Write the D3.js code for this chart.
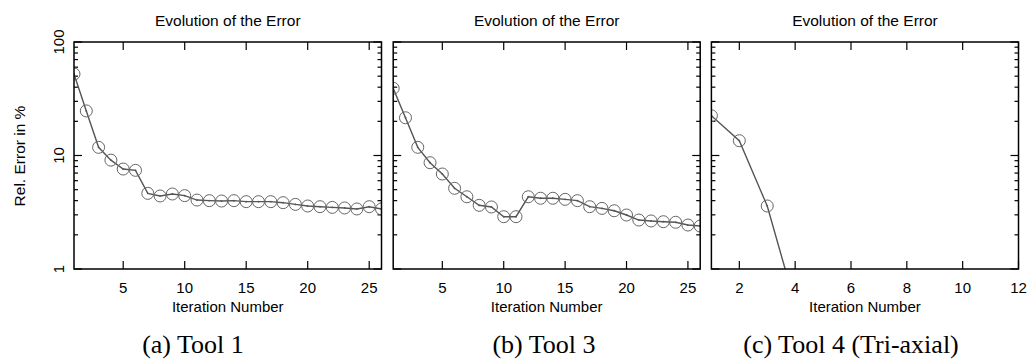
<!DOCTYPE html>
<html>
<head>
<meta charset="utf-8">
<script src="https://cdn.jsdelivr.net/npm/d3@7"></script>
<style>
  body { margin: 0; background: #fff; }
  text { font-family: "Liberation Sans", Arial, sans-serif; fill: #000; }
  .cap { font-family: "Liberation Serif", "DejaVu Serif", serif; }
</style>
</head>
<body>
<svg id="chart" width="1031" height="364"></svg>
<script>
// relative error (%) per iteration
const tool1 = [52.2, 24.7, 11.8, 9.1, 7.6, 7.4, 4.64, 4.40, 4.58, 4.43, 4.05, 4.0, 3.97, 4.0, 3.92, 3.92, 3.92, 3.84, 3.71, 3.59, 3.54, 3.49, 3.45, 3.38, 3.54, 3.38];
const tool3 = [39.1, 21.5, 11.8, 8.64, 6.87, 5.14, 4.33, 3.64, 3.52, 2.89, 2.89, 4.33, 4.2, 4.2, 4.11, 4.0, 3.54, 3.42, 3.26, 2.99, 2.70, 2.65, 2.61, 2.58, 2.44, 2.39];
const tool4 = [22.4, 13.5, 3.59, 0.49];

const ticks26 = [5, 10, 15, 20, 25];
const ticks12 = [2, 4, 6, 8, 10, 12];
const yTicks = [1, 10, 100];
const captions = ["(a) Tool 1", "(b) Tool 3", "(c) Tool 4 (Tri-axial)"];

const svg = d3.select("#chart");
const plotTop = 42, plotBottom = 269;

const panels = [
  { data: tool1, left: 74, right: 381.5, xmax: 26, ticks: ticks26, cap: captions[0], capX: 193, ylab: true },
  { data: tool3, left: 393.2, right: 700.2, xmax: 26, ticks: ticks26, cap: captions[1], capX: 544, ylab: false },
  { data: tool4, left: 711.4, right: 1018.5, xmax: 12, ticks: ticks12, cap: captions[2], capX: 851, ylab: false }
];

const y = d3.scaleLog().domain([1, 100]).range([plotBottom, plotTop]);
// minor ticks 2..9, 20..90
const minor = [];
[1, 10].forEach(d => { for (let k = 2; k <= 9; k++) minor.push(d * k); });

panels.forEach((p, i) => {
  const x = d3.scaleLinear().domain([1, p.xmax]).range([p.left, p.right]);
  const g = svg.append("g");

  g.append("clipPath").attr("id", "clip" + i)
    .append("rect").attr("x", p.left).attr("y", plotTop).attr("width", p.right - p.left).attr("height", plotBottom - plotTop);

  // ticks pointing inward on all four sides
  const tk = g.append("g").attr("stroke", "#000").attr("stroke-width", 1.2);
  p.ticks.forEach(t => {
    tk.append("line").attr("x1", x(t)).attr("x2", x(t)).attr("y1", plotBottom).attr("y2", plotBottom - 8);
    tk.append("line").attr("x1", x(t)).attr("x2", x(t)).attr("y1", plotTop).attr("y2", plotTop + 8);
  });
  yTicks.forEach(t => {
    tk.append("line").attr("x1", p.left).attr("x2", p.left + 8).attr("y1", y(t)).attr("y2", y(t));
    tk.append("line").attr("x1", p.right).attr("x2", p.right - 8).attr("y1", y(t)).attr("y2", y(t));
  });
  minor.forEach(t => {
    tk.append("line").attr("x1", p.left).attr("x2", p.left + 4).attr("y1", y(t)).attr("y2", y(t));
    tk.append("line").attr("x1", p.right).attr("x2", p.right - 4).attr("y1", y(t)).attr("y2", y(t));
  });

  // series
  const pts = g.append("g").attr("clip-path", "url(#clip" + i + ")");
  pts.append("path")
    .datum(p.data)
    .attr("fill", "none")
    .attr("stroke", "#555")
    .attr("stroke-width", 1.4)
    .attr("d", d3.line().x((d, j) => x(j + 1)).y(d => y(d)));
  pts.selectAll("circle.pt").data(p.data).join("circle")
    .attr("class", "pt")
    .attr("cx", (d, j) => x(j + 1)).attr("cy", d => y(d)).attr("r", 6)
    .attr("fill", "none").attr("stroke", "#666").attr("stroke-width", 1);
  pts.selectAll("circle.dot").data(p.data).join("circle")
    .attr("class", "dot")
    .attr("cx", (d, j) => x(j + 1)).attr("cy", d => y(d)).attr("r", 0.9)
    .attr("fill", "#555");

  // frame
  g.append("rect")
    .attr("x", p.left).attr("y", plotTop)
    .attr("width", p.right - p.left).attr("height", plotBottom - plotTop)
    .attr("fill", "none").attr("stroke", "#000").attr("stroke-width", 1.5);

  // tick labels
  g.selectAll("text.xt").data(p.ticks).join("text")
    .attr("class", "xt")
    .attr("x", d => x(d)).attr("y", 293)
    .attr("text-anchor", "middle").attr("font-size", 15)
    .text(d => d);

  g.append("text")
    .attr("x", (p.left + p.right) / 2).attr("y", 312)
    .attr("text-anchor", "middle").attr("font-size", 15)
    .text("Iteration Number");

  g.append("text")
    .attr("x", (p.left + p.right) / 2).attr("y", 25.7)
    .attr("text-anchor", "middle").attr("font-size", 15.5)
    .text("Evolution of the Error");

  if (p.ylab) {
    yTicks.forEach(t => {
      g.append("text")
        .attr("transform", "translate(64," + y(t) + ") rotate(-90)")
        .attr("text-anchor", "middle").attr("font-size", 15)
        .text(t);
    });
    g.append("text")
      .attr("transform", "translate(25,156) rotate(-90)")
      .attr("text-anchor", "middle").attr("font-size", 15.5)
      .text("Rel. Error in %");
  }

  g.append("text")
    .attr("class", "cap")
    .attr("x", p.capX).attr("y", 353)
    .attr("text-anchor", "middle").attr("font-size", 26)
    .text(p.cap);
});
</script>
</body>
</html>
